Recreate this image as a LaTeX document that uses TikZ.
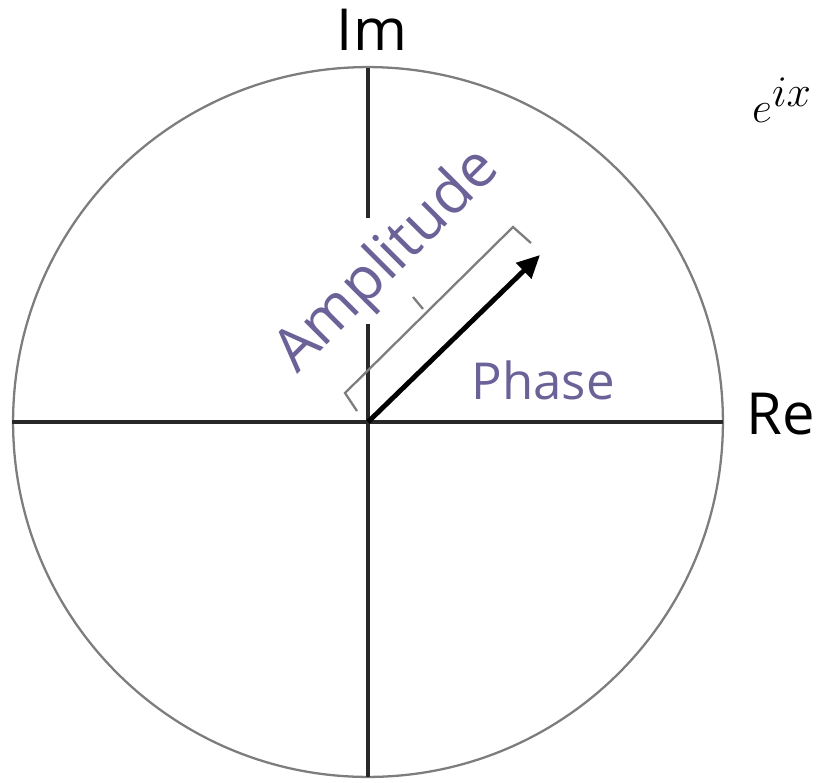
\documentclass[tikz,border=0pt]{standalone}
\usepackage{fontspec}
\setmainfont{Open Sans}
\usetikzlibrary{arrows.meta}
\definecolor{ringgray}{RGB}{125,125,125}
\definecolor{axisgray}{RGB}{40,40,40}
\definecolor{labelpurple}{RGB}{108,98,152}
\begin{document}
\begin{tikzpicture}[x=0.02cm, y=-0.02cm,
    axis/.style={axisgray, line width=2.1pt},
    ring/.style={ringgray, line width=1.3pt},
    brace/.style={ringgray, line width=1.3pt},
    axislabel/.style={font=\fontsize{33}{38}\selectfont, text=black},
    purplelabel/.style={font=\fontsize{29}{34}\selectfont, text=labelpurple}]
			\useasboundingbox (0,0) rectangle (826,782);
			
			% origin and unit circle
			\coordinate (O) at (368,422);
			\draw[ring] (O) circle[radius=7.1cm];
			
			% axes, the imaginary one broken round the label
			\coordinate (reL) at (12,422);
			\coordinate (reR) at (723,422);
			\coordinate (imT) at (368,68);
			\coordinate (imA) at (368,218);
			\coordinate (imB) at (368,324);
			\coordinate (imD) at (368,777);
			\draw[axis] (reL) -- (reR);
			\draw[axis] (imT) -- (imA);
			\draw[axis] (imB) -- (imD);
			
			% the vector
			\coordinate (tip) at (540,255);
			\draw[black, line width=2.8pt, -{Triangle[length=13pt, width=12pt]}] (O) -- (tip);
			
			% bracket for the amplitude
			\coordinate (b1) at (357,411);
			\coordinate (b2) at (345,393);
			\coordinate (bm) at (423,309);
			\coordinate (bt) at (413,297);
			\coordinate (b3) at (513,227);
			\coordinate (b4) at (531,243);
			\draw[brace] (b1) -- (b2) -- (b3) -- (b4);
			\draw[brace] (bm) -- (bt);
			
			\node[axislabel] (im) at (372,30) {Im};
			\node[axislabel] (re) at (781,414) {Re};
			\node[font=\fontsize{40}{46}\selectfont] (euler) at (782,100) {$e^{ix}$};
			\node[purplelabel, font=\fontsize{34}{40}\selectfont, rotate=45] (amp) at (388,262) {Amplitude};
			\node[purplelabel] (phase) at (543,380) {Phase};
		\end{tikzpicture}
\end{document}
